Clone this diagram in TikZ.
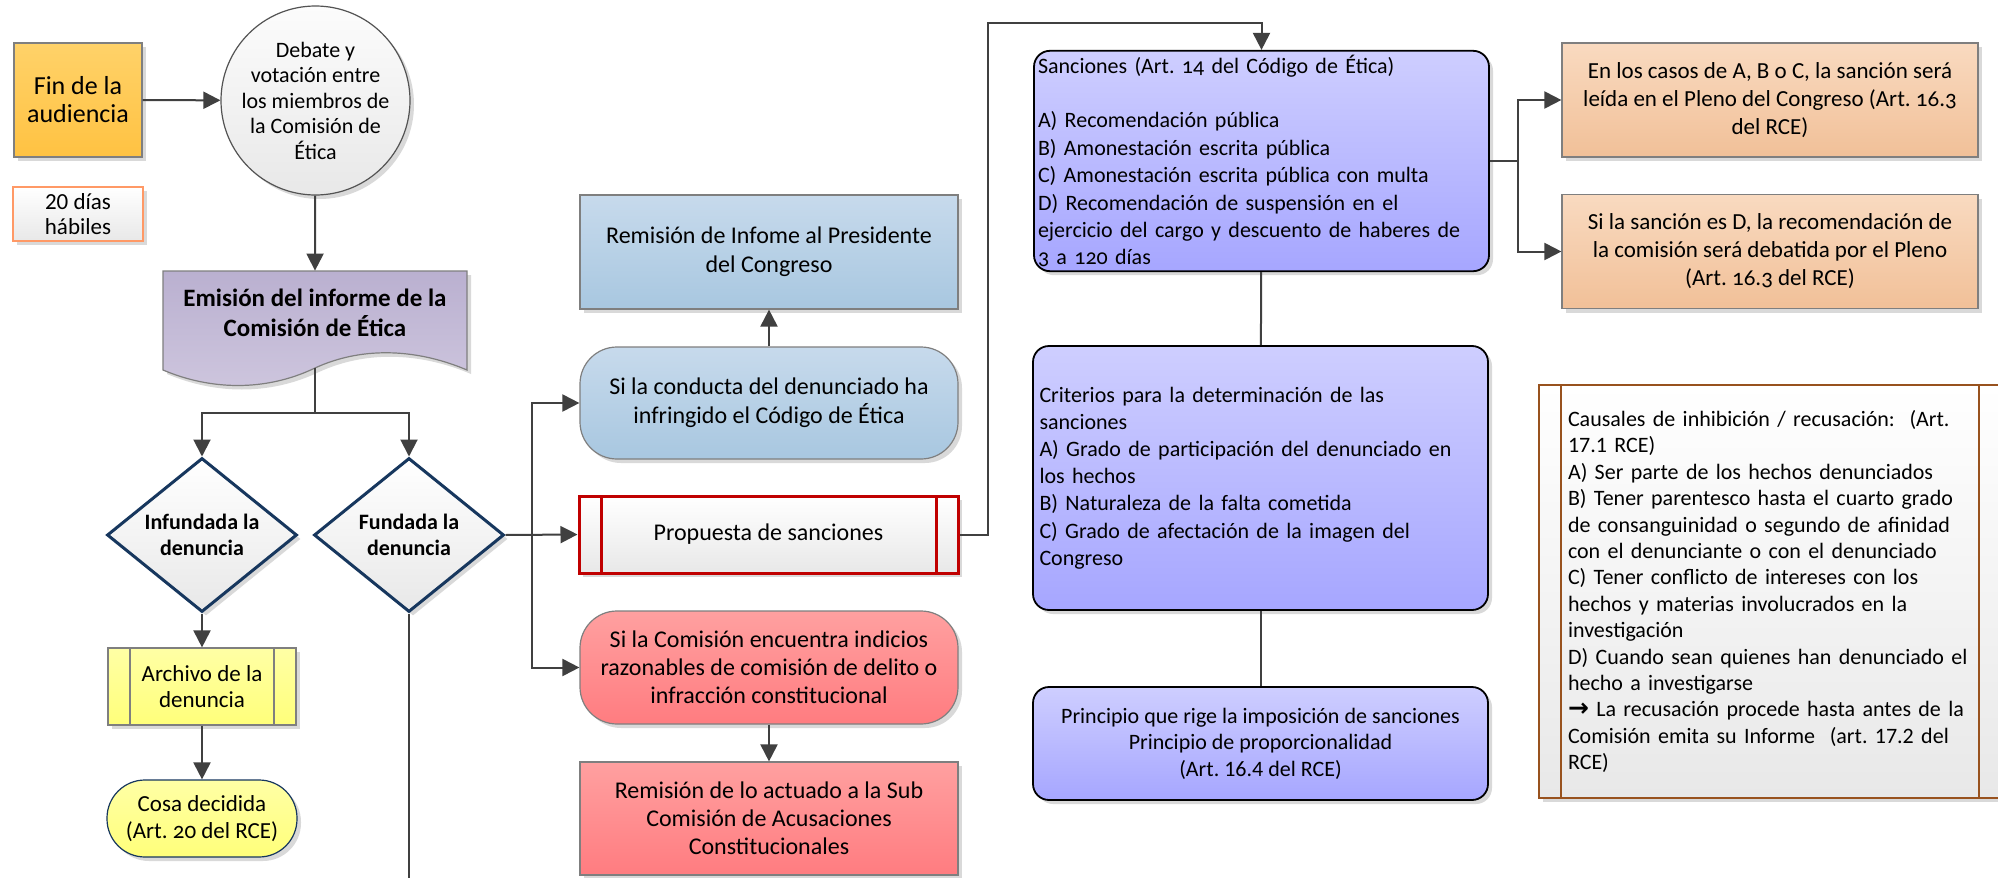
\documentclass[tikz,border=0pt]{standalone}
\usepackage{fontspec}
\setmainfont{Carlito}
\newfontfamily\arrowfont{DejaVu Sans}
\usetikzlibrary{arrows.meta,shapes.geometric,shadows,calc}
\frenchspacing

\newcommand{\onums}{\addfontfeatures{Numbers=OldStyle}}

\definecolor{linegray}{RGB}{64,64,64}
\definecolor{bordergray}{RGB}{127,127,127}
\definecolor{finTop}{RGB}{255,210,105}
\definecolor{finBot}{RGB}{255,194,66}
\definecolor{greyTop}{RGB}{252,252,252}
\definecolor{greyBot}{RGB}{232,232,232}
\definecolor{docTop}{RGB}{206,198,222}
\definecolor{docBot}{RGB}{186,176,208}
\definecolor{navy}{RGB}{23,55,94}
\definecolor{yellowTop}{RGB}{255,255,165}
\definecolor{yellowBot}{RGB}{255,255,122}
\definecolor{blueTop}{RGB}{199,218,236}
\definecolor{blueBot}{RGB}{168,199,224}
\definecolor{redTop}{RGB}{255,160,160}
\definecolor{redBot}{RGB}{255,124,128}
\definecolor{propRed}{RGB}{192,0,0}
\definecolor{lavTop}{RGB}{206,206,255}
\definecolor{lavBot}{RGB}{166,166,255}
\definecolor{peachTop}{RGB}{249,218,192}
\definecolor{peachBot}{RGB}{241,192,152}
\definecolor{orangeB}{RGB}{255,153,102}
\definecolor{brownB}{RGB}{152,82,30}

\tikzset{
  conn/.style={draw=linegray, line width=1pt},
  arr/.style={conn, -{Triangle[length=8.5pt,width=8.5pt]}},
  shad/.style={drop shadow={shadow xshift=2pt, shadow yshift=-2pt, fill=black, opacity=0.15}},
  basebox/.style={shad, draw=bordergray, line width=0.6pt, inner sep=2pt, align=center,
    font=\fontsize{11}{13.5}\selectfont},
  subproc/.style={path picture={
    \draw[#1] ([xshift=11pt]path picture bounding box.north west) -- ([xshift=11pt]path picture bounding box.south west)
              ([xshift=-11pt]path picture bounding box.north east) -- ([xshift=-11pt]path picture bounding box.south east);}},
  decision/.style={basebox, diamond, draw=navy, line width=1.5pt, top color=white, bottom color=greyBot,
    minimum width=95pt, minimum height=77pt, aspect=1.23, inner sep=0pt,
    font=\fontsize{11}{13}\selectfont\bfseries},
  bluebox/.style={basebox, top color=blueTop, bottom color=blueBot, minimum width=189pt,
    font=\fontsize{12}{14.5}\selectfont},
  redbox/.style={basebox, top color=redTop, bottom color=redBot, minimum width=189pt, minimum height=56.5pt,
    font=\fontsize{12}{14}\selectfont},
  lavbox/.style={basebox, draw=black, line width=0.9pt, rounded corners=8pt, top color=lavTop, bottom color=lavBot,
    minimum width=227.5pt},
  peachbox/.style={basebox, top color=peachTop, bottom color=peachBot, minimum width=208pt, minimum height=57pt,
    font=\fontsize{11.5}{14}\selectfont\onums}
}

\begin{document}
\begin{tikzpicture}[x=0.5pt,y=0.5pt,yscale=-1,xscale=1]
\path[use as bounding box, fill=white] (0,0) rectangle (1998,878);

% Start
\node[basebox, top color=finTop, bottom color=finBot, minimum width=64pt, minimum height=57pt,
  font=\fontsize{13}{14}\selectfont] (fin) at (78,100) {Fin de la\\audiencia};
\node[basebox, circle, draw=linegray!90, top color=greyTop, bottom color=greyBot, minimum size=94.5pt, inner sep=0pt,
  font=\fontsize{11}{12.75}\selectfont] (debate) at (315.5,100.5) {Debate y\\votación entre\\los miembros de\\la Comisión de\\Ética};
\node[basebox, draw=orangeB, line width=1pt, top color=white, bottom color=greyBot, minimum width=65pt, minimum height=27pt,
  font=\fontsize{11.5}{12.5}\selectfont] (dias) at (78,214) {20 días\\hábiles};

% Document shape
\draw[shad, draw=bordergray, line width=0.6pt, top color=docBot, bottom color=docTop]
  (163,271) -- (467,271) -- (467,370) .. controls (420,350) and (365,345) .. (315,368)
  .. controls (265,392) and (210,390) .. (163,370) -- cycle;
\node[minimum height=42pt, minimum width=152pt, align=center, font=\fontsize{12.5}{15}\selectfont\bfseries]
  (emision) at (315,313) {Emisión del informe de la\\Comisión de Ética};

% Decisions
\node[decision] (infundada) at (202,535) {Infundada la\\denuncia};
\node[decision] (fundada) at (409,535) {Fundada la\\denuncia};
\node[basebox, subproc={draw=bordergray, line width=0.6pt}, top color=yellowTop, bottom color=yellowBot,
  minimum width=94pt, minimum height=38.5pt, font=\fontsize{11.5}{13}\selectfont] (archivo) at (202,686.5) {Archivo de la\\denuncia};
\node[basebox, draw=navy, rounded corners=19pt, top color=yellowTop, bottom color=yellowBot,
  minimum width=95pt, minimum height=38.5pt, font=\fontsize{11.5}{13.5}\selectfont] (cosa) at (202,818.5) {Cosa decidida\\{\onums(Art. 20 del RCE)}};

% Middle column
\node[bluebox, minimum height=57pt] (remision) at (769,252) {Remisión de Infome al Presidente\\del Congreso};
\node[bluebox, rounded corners=18.5pt, minimum height=56pt] (conducta) at (769,403) {Si la conducta del denunciado ha\\infringido el Código de Ética};
\node[basebox, draw=propRed, line width=1.5pt, subproc={draw=propRed, line width=1.5pt}, top color=white, bottom color=greyBot,
  minimum width=189.5pt, minimum height=38.5pt, font=\fontsize{12}{14}\selectfont] (propuesta) at (768.5,534.5) {Propuesta de sanciones};
\node[redbox, rounded corners=18.5pt] (comision) at (769,667.5) {Si la Comisión encuentra indicios\\razonables de comisión de delito o\\infracción constitucional};
\node[redbox] (actuado) at (769,818.5) {Remisión de lo actuado a la Sub\\Comisión de Acusaciones\\Constitucionales};

% Sanctions column
\node[lavbox, minimum height=110pt, text width=223.5pt, align=left, font=\fontsize{11}{13.7}\selectfont\onums]
  (sanciones) at (1261.5,161) {Sanciones (Art. 14 del Código de Ética)\\[13.7pt]
  A) Recomendación pública\\
  B) Amonestación escrita pública\\
  C) Amonestación escrita pública con multa\\
  D) Recomendación de suspensión en el\\
  ejercicio del cargo y descuento de haberes de\\
  3 a 120 días};
\node[lavbox, minimum height=132pt, text width=221pt, align=left, inner xsep=3.25pt, font=\fontsize{11}{13.6}\selectfont]
  (criterios) at (1260.5,478) {Criterios para la determinación de las\\
  sanciones\\
  A) Grado de participación del denunciado en\\
  los hechos\\
  B) Naturaleza de la falta cometida\\
  C) Grado de afectación de la imagen del\\
  Congreso};
\node[lavbox, minimum height=56.5pt, font=\fontsize{11}{13.25}\selectfont]
  (principio) at (1260.5,743.5) {Principio que rige la imposición de sanciones\\Principio de proporcionalidad\\(Art. 16.4 del RCE)};

% Right column
\node[peachbox] (leida) at (1770,100) {En los casos de A, B o C, la sanción será\\leída en el Pleno del Congreso (Art. 16.3\\del RCE)};
\node[peachbox] (debatida) at (1770,251.5) {Si la sanción es D, la recomendación de\\la comisión será debatida por el Pleno\\(Art. 16.3 del RCE)};
\node[basebox, draw=brownB, line width=1pt, subproc={draw=brownB, line width=1pt}, top color=white, bottom color=greyBot,
  minimum width=231pt, minimum height=206.5pt, text width=202pt, inner xsep=14.5pt, align=left,
  font=\fontsize{11}{13.2}\selectfont] (causales) at (1770,591.5) {Causales de inhibición / recusación:~ (Art.\\
  17.1 RCE)\\
  A) Ser parte de los hechos denunciados\\
  B) Tener parentesco hasta el cuarto grado\\
  de consanguinidad o segundo de afinidad\\
  con el denunciante o con el denunciado\\
  C) Tener conflicto de intereses con los\\
  hechos y materias involucrados en la\\
  investigación\\
  D) Cuando sean quienes han denunciado el\\
  hecho a investigarse\\
  {\arrowfont\bfseries\fontsize{12.5}{13.2}\selectfont →} La recusación procede hasta antes de la\\
  Comisión emita su Informe~ (art. 17.2 del\\
  RCE)};

% Connectors
\coordinate (split) at (315,413);
\coordinate (fork) at (532,535);
\coordinate (fundadaend) at (409,880);
\coordinate (topbend) at (1261.5,23);
\draw[arr] (fin) -- (debate);
\draw[arr] (debate) -- (emision.north);
\draw[conn] ($(emision.south)+(0,13)$) -- (split);
\draw[arr] (split) -| (infundada.north);
\draw[arr] (split) -| (fundada.north);
\draw[arr] (infundada) -- (archivo);
\draw[arr] (archivo) -- (cosa);
\draw[conn] (fundada.south) -- (fundadaend);
\draw[arr] (fundada.east) -- (propuesta.west);
\draw[arr] (fork) |- (conducta.west);
\draw[arr] (fork) |- (comision.west);
\draw[arr] (conducta) -- (remision);
\draw[arr] (comision) -- (actuado);
\draw[arr] (propuesta.east) -- ++(28,0) |- (topbend) -- (sanciones.north);
\draw[conn] (sanciones.east) -- ++(28,0) coordinate (pfork);
\draw[arr] (pfork) |- (leida.west);
\draw[arr] (pfork) |- (debatida.west);
\draw[conn] (sanciones) -- (criterios);
\draw[conn] (criterios) -- (principio);

\end{tikzpicture}
\end{document}
